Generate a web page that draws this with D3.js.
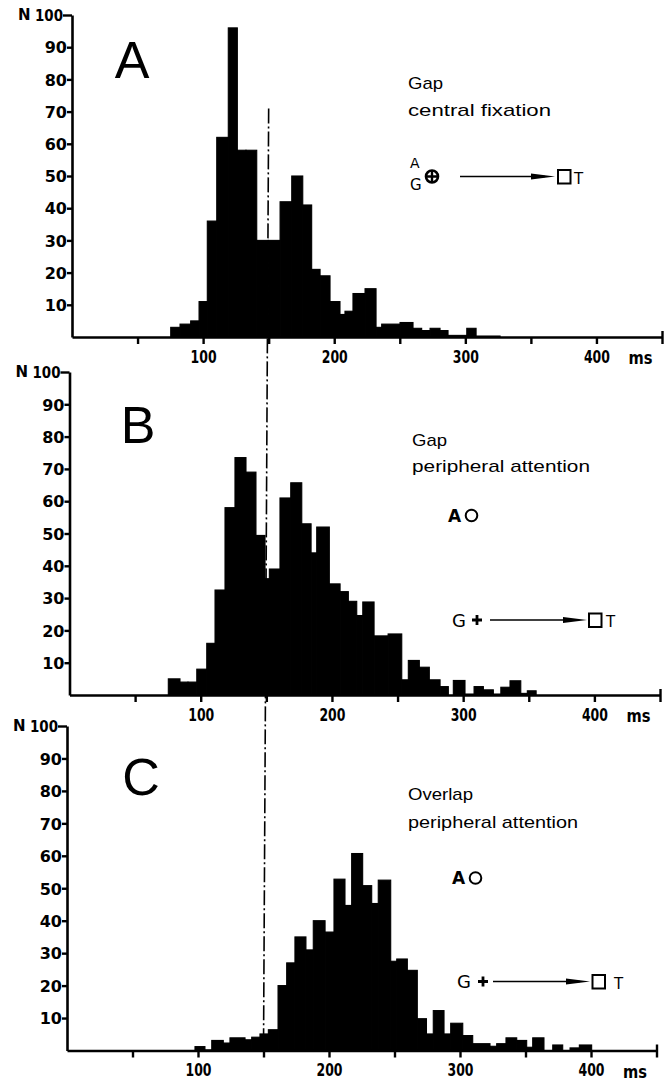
<!DOCTYPE html>
<html><head><meta charset="utf-8">
<script src="https://cdn.jsdelivr.net/npm/d3@7"></script>
<style>body{margin:0;background:#fff} svg{display:block}</style>
</head><body>
<svg id="chart" width="668" height="1080"></svg>
<script>
// ---------- data ----------
const yTicks = [10, 20, 30, 40, 50, 60, 70, 80, 90, 100];
const xTicks = [50, 100, 150, 200, 250, 300, 350, 400, 450];
const xTickLabels = ["", "100", "", "200", "", "300", "", "400", ""];
const xUnit = "ms";
const yUnit = "N";
const panelLetters = ["A", "B", "C"];
const conditionLines = [["Gap", "central fixation"], ["Gap", "peripheral attention"], ["Overlap", "peripheral attention"]];
const referenceLatency = 150; // dash-dot reference (ms)
const referenceTop = 71;      // where it starts in panel A (N)

// bin edges (ms) and counts (N)
const edgesA = [75.3, 82.4, 90.5, 96.9, 103.2, 110.4, 119.2, 126.1, 132.7, 140.9, 149.7, 158.7, 167.6, 176, 182.8, 189.2, 196.8, 204.4, 208.2, 214.3, 223.5, 231.9, 236.2, 250.2, 260.1, 266.7, 273.1, 280.7, 286.8, 301.1, 308.2, 326.5];
const countsA = [3, 4, 5, 11, 36, 62, 96, 58, 58, 30, 30, 42, 50, 41, 21, 19, 11, 7, 8, 13.5, 15, 3, 4, 4.5, 2.7, 2, 2.7, 2, 0.5, 2.7, 0.3];

const edgesB = [75.3, 84.2, 90.3, 97, 104.6, 110.9, 118.5, 126.1, 134.5, 142.1, 149, 152.3, 160.4, 168.6, 177, 184.1, 188.4, 198, 206.2, 212.5, 218.9, 223.5, 232.1, 242.8, 253.2, 258.2, 266.6, 274.2, 282.4, 288.7, 292.5, 301.4, 308.3, 315.4, 323, 328.7, 335.7, 343.9, 348.9, 355.6];
const countsB = [5, 4, 4, 8, 16, 32.5, 58, 73.5, 69, 49.4, 36, 39, 61, 65.7, 53, 44, 52, 34.4, 32, 29, 24.6, 28.8, 18.3, 18.9, 4.7, 10.7, 8.6, 4.7, 2.6, 0, 4.5, 0.3, 2.6, 1.6, 0.3, 2.4, 4.4, 0.5, 1.3];

const edgesC = [97.7, 105.3, 110.5, 119.3, 124.4, 135.9, 141, 147.3, 153.7, 161.1, 167.7, 174, 182.4, 188, 197, 203.8, 212.2, 217.3, 225.7, 232.6, 237.6, 247.1, 251.7, 259.8, 267.4, 274.4, 279.6, 287.8, 292.9, 302.1, 309.7, 322.9, 328, 335.1, 343.3, 350.9, 355.5, 364.1, 370.8, 378.4, 384, 391.1, 400.5];
const countsC = [1.2, 0.2, 3.1, 2.3, 3.9, 3.3, 4.1, 5.1, 6.4, 20, 27, 35, 31, 40, 36.5, 52.8, 44.7, 60.7, 50.8, 45.3, 52.5, 27.5, 28.2, 24.7, 9.8, 5.1, 12.3, 5.1, 8.4, 4.6, 2.1, 1.3, 2.1, 3.9, 3.1, 1, 3.9, 0, 1.7, 0, 0.8, 1.7];

// ---------- layout ----------
const layout = [
  { xr: [72, 662], yr: [337, 15], letter: [132, 78],
    title: { x: 408, y: [89, 116], w: [35, 143] },
    stim: { type: "fix", ay: 168, gy: 190, lx: 410, cx: 432, cy: 176.5, a0: 460, a1: 555, sq: 558, t: 574 } },
  { xr: [69.5, 660], yr: [695, 372], letter: [138, 443],
    title: { x: 412, y: [446, 471.5], w: [35, 178] },
    stim: { type: "per", ax: 448, ay: 522, ox: 471.5, oy: 515.5, gx: 452, gy: 627, px: 477, py: 620, a0: 490, a1: 587, sq: 589, t: 606 } },
  { xr: [67, 656.5], yr: [1050.5, 726], letter: [141, 795],
    title: { x: 408, y: [800, 828], w: [65, 170] },
    stim: { type: "per", ax: 452, ay: 884, ox: 475.5, oy: 878, gx: 457, gy: 988, px: 483, py: 981.5, a0: 493, a1: 590, sq: 592.5, t: 614 } }
];
const series = [[edgesA, countsA], [edgesB, countsB], [edgesC, countsC]];

const svg = d3.select("#chart");
const scales = [];

series.forEach(([edges, counts], i) => {
  const L = layout[i];
  const x = d3.scaleLinear().domain([0, 450]).range(L.xr);
  const y = d3.scaleLinear().domain([0, 100]).range(L.yr);
  scales.push({ x, y });
  const g = svg.append("g");

  // bars
  const bins = counts.map((c, j) => ({ x0: edges[j], x1: edges[j + 1], n: c }));
  g.append("g").selectAll("rect").data(bins).join("rect")
    .attr("x", d => x(d.x0))
    .attr("width", d => x(d.x1) - x(d.x0))
    .attr("y", d => y(d.n))
    .attr("height", d => y(0) - y(d.n))
    .attr("fill", "#000").attr("stroke", "#000").attr("stroke-width", 1.1);

  // y axis
  const ya = g.append("g").attr("transform", `translate(${L.xr[0]},0)`)
    .call(d3.axisLeft(y).tickValues(yTicks).tickSize(5).tickSizeOuter(0).tickPadding(0));
  ya.select(".domain").attr("stroke", "#000").attr("stroke-width", 2.6);
  ya.selectAll(".tick line").attr("stroke", "#000").attr("stroke-width", 2.4);
  ya.selectAll(".tick text")
    .attr("font-family", "DejaVu Sans, sans-serif").attr("font-weight", "bold")
    .attr("font-size", 16).attr("fill", "#000").attr("dy", "0.36em");
  ya.selectAll(".tick").filter(d => d === 100).select("line").attr("x2", -9);
  ya.selectAll(".tick").filter(d => d === 100).select("text")
    .attr("x", -9).attr("textLength", 28).attr("lengthAdjust", "spacingAndGlyphs");
  g.append("text").text(yUnit)
    .attr("x", L.xr[0] - 54).attr("y", y(100)).attr("dy", "0.36em")
    .attr("font-family", "DejaVu Sans, sans-serif").attr("font-weight", "bold")
    .attr("font-size", 15);

  // x axis
  const xa = g.append("g").attr("transform", `translate(0,${L.yr[0]})`)
    .call(d3.axisBottom(x).tickValues(xTicks).tickSize(7).tickSizeOuter(0).tickPadding(6)
      .tickFormat((d, k) => xTickLabels[k]));
  xa.select(".domain").attr("stroke", "#000").attr("stroke-width", 2.6);
  xa.selectAll(".tick line").attr("stroke", "#000").attr("stroke-width", 2.4);
  xa.selectAll(".tick").filter(d => d === 450).select("line").attr("y1", -6);
  xa.selectAll(".tick text")
    .attr("font-family", "DejaVu Sans Condensed, DejaVu Sans, sans-serif").attr("font-weight", "bold")
    .attr("font-size", 18).attr("fill", "#000")
    .each(function () { if (this.textContent) d3.select(this).attr("textLength", 26).attr("lengthAdjust", "spacingAndGlyphs"); });
  g.append("text").text(xUnit)
    .attr("x", x(400) + 32).attr("y", L.yr[0] + 27)
    .attr("font-family", "DejaVu Sans Condensed, DejaVu Sans, sans-serif").attr("font-weight", "bold")
    .attr("font-size", 18).attr("textLength", 24).attr("lengthAdjust", "spacingAndGlyphs");

  // panel letter
  g.append("text").text(panelLetters[i])
    .attr("x", L.letter[0]).attr("y", L.letter[1]).attr("text-anchor", "middle")
    .attr("font-family", "Liberation Sans, Arial, sans-serif").attr("font-size", 52);

  // condition text
  conditionLines[i].forEach((t, k) => {
    g.append("text").text(t)
      .attr("x", L.title.x).attr("y", L.title.y[k])
      .attr("font-family", "Liberation Sans, Arial, sans-serif").attr("font-size", 17)
      .attr("textLength", L.title.w[k]).attr("lengthAdjust", "spacingAndGlyphs");
  });

  // stimulus diagram
  const s = L.stim;
  const font = "DejaVu Sans, sans-serif";
  let ay;
  if (s.type === "fix") {
    g.append("text").text("A").attr("x", s.lx).attr("y", s.ay).attr("font-family", font).attr("font-size", 14);
    g.append("text").text("G").attr("x", s.lx).attr("y", s.gy).attr("font-family", font).attr("font-size", 15);
    g.append("circle").attr("cx", s.cx).attr("cy", s.cy).attr("r", 6).attr("fill", "none").attr("stroke", "#000").attr("stroke-width", 2.6);
    g.append("path").attr("d", `M${s.cx - 6},${s.cy}H${s.cx + 6}M${s.cx},${s.cy - 6}V${s.cy + 6}`).attr("stroke", "#000").attr("stroke-width", 2.4);
    ay = s.cy;
  } else {
    g.append("text").text("A").attr("x", s.ax).attr("y", s.ay).attr("font-family", font).attr("font-weight", "bold").attr("font-size", 17);
    g.append("circle").attr("cx", s.ox).attr("cy", s.oy).attr("r", 5.8).attr("fill", "none").attr("stroke", "#000").attr("stroke-width", 2);
    g.append("text").text("G").attr("x", s.gx).attr("y", s.gy).attr("font-family", font).attr("font-size", 18);
    g.append("path").attr("d", `M${s.px - 5},${s.py}H${s.px + 5}M${s.px},${s.py - 5}V${s.py + 5}`).attr("stroke", "#000").attr("stroke-width", 2.8);
    ay = s.py;
  }
  g.append("line").attr("x1", s.a0).attr("x2", s.a1 - 10).attr("y1", ay).attr("y2", ay).attr("stroke", "#000").attr("stroke-width", 1.6);
  g.append("path").attr("d", `M${s.a1 - 24},${ay - 3}L${s.a1},${ay}L${s.a1 - 24},${ay + 3}Z`).attr("fill", "#000");
  g.append("rect").attr("x", s.sq).attr("y", ay - 6.5).attr("width", 12.5).attr("height", 13.5)
    .attr("fill", "none").attr("stroke", "#000").attr("stroke-width", 2);
  g.append("text").text("T").attr("x", s.t).attr("y", ay + 7)
    .attr("font-family", font).attr("font-size", 15);
});

// dash-dot reference line at 150 ms through all three panels
svg.append("line")
  .attr("x1", scales[0].x(referenceLatency)).attr("y1", scales[0].y(referenceTop))
  .attr("x2", scales[2].x(referenceLatency)).attr("y2", scales[2].y(0))
  .attr("stroke", "#000").attr("stroke-width", 1.6).attr("stroke-dasharray", "15,3,2,3");
</script>
</body></html>
